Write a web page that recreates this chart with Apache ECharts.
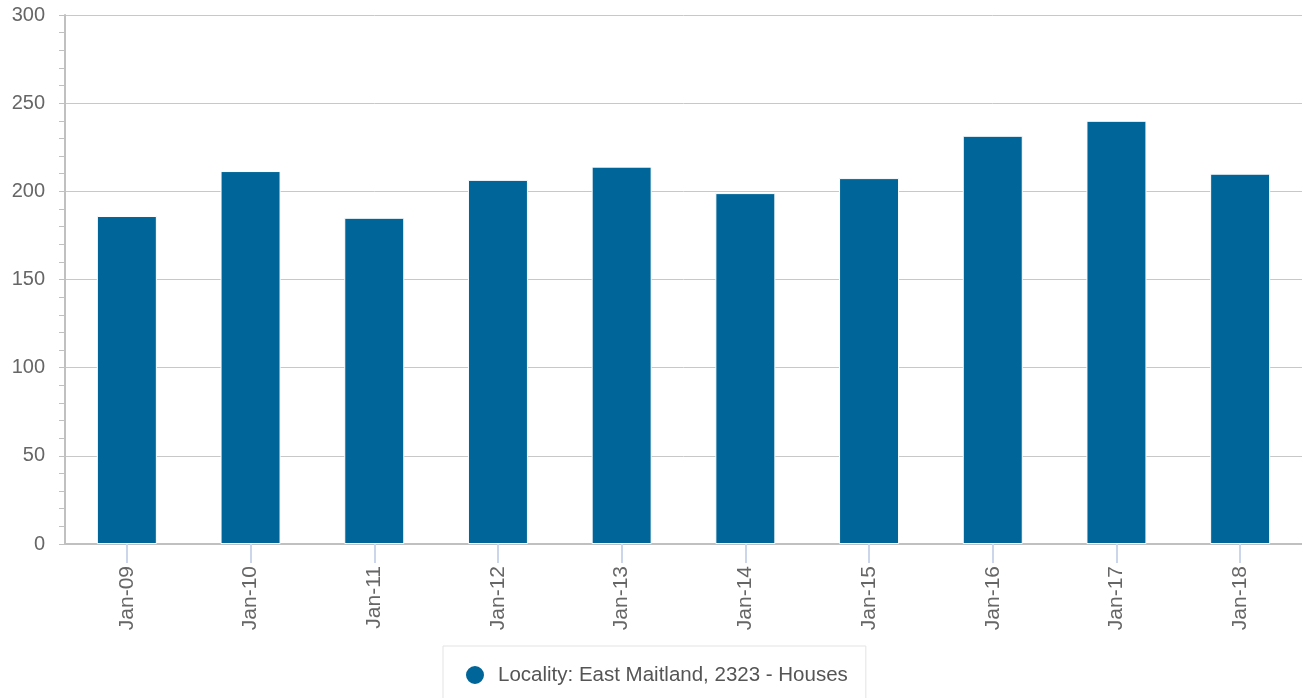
<!DOCTYPE html>
<html>
<head>
<meta charset="utf-8">
<script src="https://cdn.jsdelivr.net/npm/echarts@6/dist/echarts.min.js"></script>
<style>
html,body{margin:0;padding:0;background:#fff;}
#chart{width:1302px;height:698px;}
</style>
</head>
<body>
<div id="chart"></div>
<script>
const categories = ['Jan-09','Jan-10','Jan-11','Jan-12','Jan-13','Jan-14','Jan-15','Jan-16','Jan-17','Jan-18'];
const seriesName = 'Locality: East Maitland, 2323 - Houses';
const values = [186, 211.5, 185, 206.5, 214, 199, 207.5, 231.5, 240, 210];
const yTicks = [0, 50, 100, 150, 200, 250, 300];

const chart = echarts.init(document.getElementById('chart'), null, {renderer: 'canvas'});
const font = '"Liberation Sans", Arial, Helvetica, sans-serif';
chart.setOption({
  animation: false,
  textStyle: {fontFamily: font},
  grid: {left: 65, right: 0, top: 15, bottom: 154, containLabel: false},
  legend: {
    show: true,
    data: [seriesName],
    top: 646,
    left: 443,
    icon: 'circle',
    itemWidth: 20,
    itemHeight: 20,
    itemGap: 10,
    padding: [18, 18, 18, 21],
    borderColor: '#e3e3e3',
    borderWidth: 1,
    textStyle: {fontSize: 20.5, color: '#555', fontFamily: font, padding: [0, 0, 0, 8]}
  },
  xAxis: {
    type: 'category',
    data: categories,
    axisLine: {show: true, lineStyle: {color: '#c0c0c0', width: 2}},
    axisTick: {show: true, alignWithLabel: true, length: 19, lineStyle: {color: '#ccd6eb', width: 2}},
    axisLabel: {rotate: 90, margin: 22, fontSize: 21, color: '#666', fontFamily: font}
  },
  yAxis: {
    type: 'value',
    min: yTicks[0],
    max: yTicks[yTicks.length - 1],
    interval: 50,
    axisLine: {show: true, lineStyle: {color: '#c0c0c0', width: 2}},
    axisTick: {show: true, length: 6, lineStyle: {color: '#c0c0c0', width: 1}},
    minorTick: {show: true, splitNumber: 5, length: 6, lineStyle: {color: '#c0c0c0', width: 1}},
    splitLine: {show: true, lineStyle: {color: '#c8c8c8', width: 1}},
    axisLabel: {margin: 20, fontSize: 20, color: '#666', fontFamily: font}
  },
  series: [{
    name: seriesName,
    type: 'bar',
    data: values,
    barWidth: 60,
    itemStyle: {color: '#006699', borderColor: '#ffffff', borderWidth: 1}
  }]
});
</script>
</body>
</html>
